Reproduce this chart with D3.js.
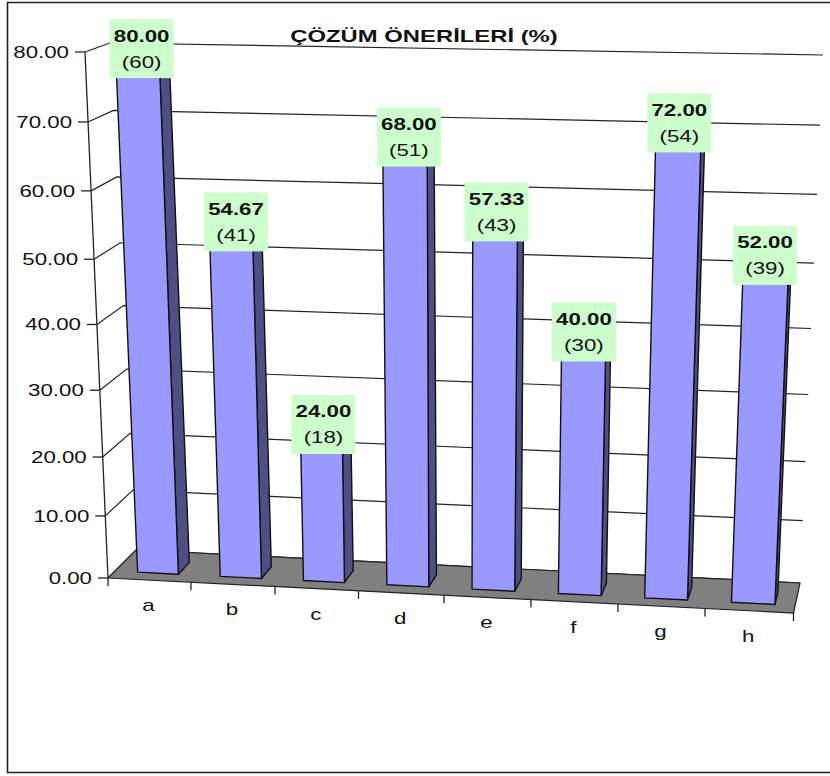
<!DOCTYPE html>
<html>
<head>
<meta charset="utf-8">
<script src="https://cdn.jsdelivr.net/npm/d3@7"></script>
<style>
html,body{margin:0;padding:0;background:#fff}
svg{display:block}
text{font-family:"Liberation Sans",Arial,sans-serif;fill:#111}
</style>
</head>
<body>
<div id="chart"></div>
<script>
// Chart content
const chartTitle = "ÇÖZÜM ÖNERİLERİ (%)";
const categories = ["a", "b", "c", "d", "e", "f", "g", "h"];
const percents = [80.00, 54.67, 24.00, 68.00, 57.33, 40.00, 72.00, 52.00];
const counts = [60, 41, 18, 51, 43, 30, 54, 39];
const valueTicks = [0, 10, 20, 30, 40, 50, 60, 70, 80];

// Share of the box height reached by each axis tick; the 3D view foreshortens them unevenly
const tickHeights = [0, 0.118, 0.23, 0.357, 0.482, 0.606, 0.736, 0.867, 1];
// Share of the box width reached by each category boundary
const categoryStops = [0, 0.121, 0.2436, 0.3654, 0.4901, 0.617, 0.7439, 0.8709, 1];
// Small hand placement of the value plates relative to their bars
const plateNudge = [[6, 0], [7, -2], [4, -4], [7, 0], [5, -1], [4, 0], [5, 8], [4, -2]];

// Corners of the 3D plot box on the page: floor and ceiling, front and back
const box = {
  floor: { fl: [108, 578], fr: [793.5, 613], bl: [136, 550], br: [800, 583] },
  top:   { fl: [85, 52],   fr: [817, 65],    bl: [110, 43],  br: [823, 55] }
};

const W = 830, H = 776;
const fontSize = 17;
const textStretch = 1.31;

const svg = d3.select("#chart").append("svg").attr("width", W).attr("height", H);

const across = d3.scaleLinear().domain(d3.range(categories.length + 1)).range(categoryStops);
const height = d3.scaleLinear().domain(valueTicks).range(tickHeights);

const mix = (a, b, t) => [a[0] + (b[0] - a[0]) * t, a[1] + (b[1] - a[1]) * t];
const planePoint = (p, f, d) => mix(mix(p.fl, p.fr, f), mix(p.bl, p.br, f), d);

// Category position u, value v and depth d (0 front, 1 back) to page coordinates
function project(u, v, d) {
  const f = across(u);
  return mix(planePoint(box.floor, f, d), planePoint(box.top, f, d), height(v));
}
const poly = pts => "M" + pts.map(p => p.join(",")).join("L") + "Z";

function stretchedText(parent, x, y, str, size, weight, anchor, stretch) {
  return parent.append("text")
    .attr("transform", `translate(${x},${y}) scale(${stretch || textStretch},1)`)
    .attr("text-anchor", anchor || "middle")
    .attr("font-size", size)
    .attr("font-weight", weight || "normal")
    .text(str);
}

// Gridlines across the side wall and the back wall
const grid = svg.append("g").attr("fill", "none").attr("stroke", "#222").attr("stroke-width", 1.2);
valueTicks.forEach(v => {
  const n = categories.length;
  grid.append("path").attr("d", d3.line()([project(0, v, 0), project(0, v, 1), project(n, v, 1)]));
});

// Floor
const floorCorners = [project(0, 0, 0), project(8, 0, 0), project(8, 0, 1), project(0, 0, 1)];
svg.append("path").attr("d", poly(floorCorners))
  .attr("fill", "#808080").attr("stroke", "#222").attr("stroke-width", 1.2);

// Value axis with its ticks and labels
const axis = svg.append("g");
axis.append("line")
  .attr("x1", project(0, 0, 0)[0]).attr("y1", project(0, 0, 0)[1])
  .attr("x2", project(0, 80, 0)[0]).attr("y2", project(0, 80, 0)[1])
  .attr("stroke", "#222").attr("stroke-width", 1.3);
valueTicks.forEach(v => {
  const [x, y] = project(0, v, 0);
  axis.append("line").attr("x1", x - 10).attr("x2", x).attr("y1", y).attr("y2", y)
    .attr("stroke", "#222").attr("stroke-width", 1.3);
  stretchedText(axis, x - 16, y + 6, v.toFixed(2), fontSize, "normal", "end");
});

// Category ticks along the front edge of the floor, with labels between them
const catAxis = svg.append("g");
d3.range(categories.length + 1).forEach(i => {
  const [x, y] = project(i, 0, 0);
  catAxis.append("line").attr("x1", x).attr("x2", x).attr("y1", y).attr("y2", y + 8)
    .attr("stroke", "#222").attr("stroke-width", 1.3);
});
categories.forEach((c, i) => {
  const [x, y] = project(i + 0.5, 0, 0);
  stretchedText(catAxis, x - 1, y + 31, c, fontSize);
});

// Bars: top, side and front faces
const barLeft = 0.275, barRight = 0.77, depthFront = 0.25, depthBack = 0.67;
const bars = svg.append("g").attr("stroke", "#111").attr("stroke-width", 1.4).attr("stroke-linejoin", "round");
percents.forEach((v, i) => {
  const u0 = i + barLeft, u1 = i + barRight;
  bars.append("path").attr("fill", "#4F4F86").attr("d", poly([
    project(u1, 0, depthFront), project(u1, 0, depthBack), project(u1, v, depthBack), project(u1, v, depthFront)
  ]));
  bars.append("path").attr("fill", "#7C7CD0").attr("d", poly([
    project(u0, v, depthFront), project(u1, v, depthFront), project(u1, v, depthBack), project(u0, v, depthBack)
  ]));
  bars.append("path").attr("fill", "#9999FF").attr("d", poly([
    project(u0, 0, depthFront), project(u1, 0, depthFront), project(u1, v, depthFront), project(u0, v, depthFront)
  ]));
});

// Value labels on green plates, centred over each bar top
const labels = svg.append("g");
const plateW = 64, plateH = 59;
percents.forEach((v, i) => {
  const c = project(i + 0.45, v, 0.45);
  const cx = c[0] + plateNudge[i][0], cy = c[1] + plateNudge[i][1];
  labels.append("rect").attr("x", cx - plateW / 2).attr("y", cy - plateH / 2)
    .attr("width", plateW).attr("height", plateH).attr("fill", "#CCFFCC");
  stretchedText(labels, cx, cy - 7, v.toFixed(2), fontSize, "bold");
  stretchedText(labels, cx, cy + 19, `(${counts[i]})`, fontSize);
});

// Title
stretchedText(svg, 424, 41.5, chartTitle, 16, "bold", "middle", 1.49);

// Outer chart frame, open on the right where it runs off the page
svg.append("path").attr("d", d3.line()([[W + 5, 2.5], [7.5, 2.5], [7.5, 772.5], [W + 5, 772.5]]))
  .attr("fill", "none").attr("stroke", "#222").attr("stroke-width", 1.6);
</script>
</body>
</html>
